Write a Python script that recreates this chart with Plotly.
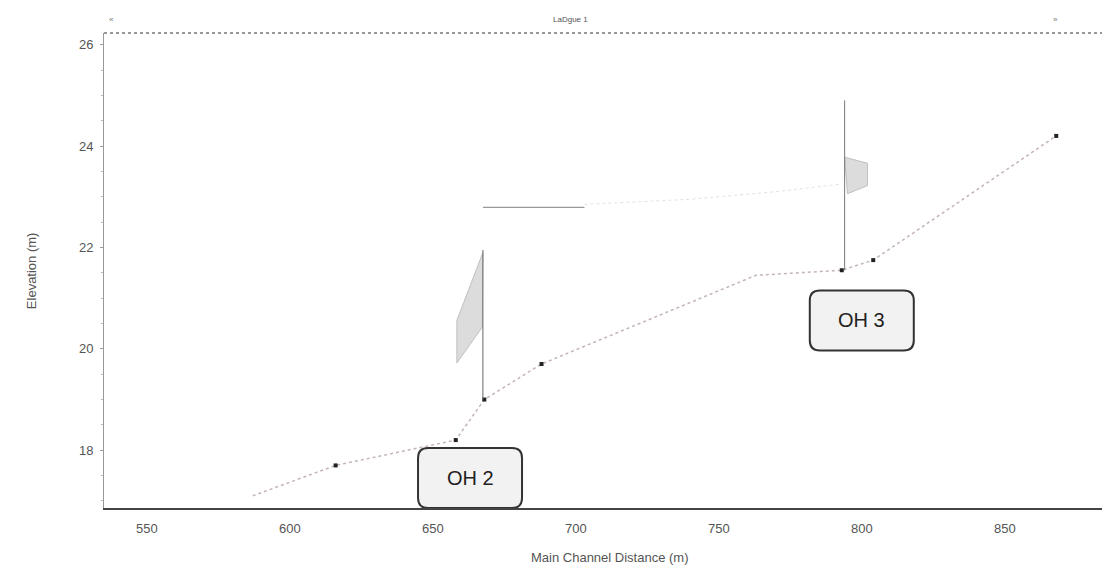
import plotly.graph_objects as go

# Channel bed profile
bed_dist = [587, 616, 658, 668, 688, 763, 793, 804, 868]
bed_elev = [17.1, 17.7, 18.2, 19.0, 19.7, 21.45, 21.55, 21.75, 24.2]
marker_dist = [616, 658, 668, 688, 793, 804, 868]
marker_elev = [17.7, 18.2, 19.0, 19.7, 21.55, 21.75, 24.2]

# Faint water surface line
ws_dist = [703, 740, 770, 793]
ws_elev = [22.85, 22.95, 23.1, 23.25]

# Structure OH 2
oh2_post_dist = [667.5, 667.5]
oh2_post_elev = [19.0, 21.95]
oh2_poly_dist = [667.5, 658.4, 658.4, 667.3, 667.5]
oh2_poly_elev = [21.9, 20.56, 19.72, 20.43, 21.9]
oh2_deck_dist = [667.5, 703]
oh2_deck_elev = [22.79, 22.79]

# Structure OH 3
oh3_post_dist = [794, 794]
oh3_post_elev = [21.55, 24.9]
oh3_poly_dist = [794, 802, 802, 795, 794]
oh3_poly_elev = [23.78, 23.66, 23.22, 23.06, 23.78]

# Labels
label_text = ["OH 2", "OH 3"]
label_dist = [663, 800]
label_elev = [17.45, 20.56]

x_ticks = [550, 600, 650, 700, 750, 800, 850]
y_ticks = [18, 20, 22, 24, 26]

fig = go.Figure()
fig.add_trace(go.Scatter(x=ws_dist, y=ws_elev, mode="lines",
                         line=dict(color="#e2e2e2", width=1, dash="dot"), hoverinfo="skip"))
fig.add_trace(go.Scatter(x=bed_dist, y=bed_elev, mode="lines",
                         line=dict(color="#c4b4b4", width=1.5, dash="dot"), hoverinfo="skip"))
fig.add_trace(go.Scatter(x=marker_dist, y=marker_elev, mode="markers",
                         marker=dict(color="#222222", size=4, symbol="square"), hoverinfo="skip"))
fig.add_trace(go.Scatter(x=oh2_poly_dist, y=oh2_poly_elev, mode="lines", fill="toself",
                         fillcolor="#dcdcdc", line=dict(color="#c0c0c0", width=1), hoverinfo="skip"))
fig.add_trace(go.Scatter(x=oh2_post_dist, y=oh2_post_elev, mode="lines",
                         line=dict(color="#666666", width=1), hoverinfo="skip"))
fig.add_trace(go.Scatter(x=oh2_deck_dist, y=oh2_deck_elev, mode="lines",
                         line=dict(color="#999999", width=1.2), hoverinfo="skip"))
fig.add_trace(go.Scatter(x=oh3_poly_dist, y=oh3_poly_elev, mode="lines", fill="toself",
                         fillcolor="#dcdcdc", line=dict(color="#c0c0c0", width=1), hoverinfo="skip"))
fig.add_trace(go.Scatter(x=oh3_post_dist, y=oh3_post_elev, mode="lines",
                         line=dict(color="#777777", width=1), hoverinfo="skip"))

W, H, R = 52, 30, 10
rounded = (f"M {-W+R},{-H} L {W-R},{-H} Q {W},{-H} {W},{-H+R} L {W},{H-R} Q {W},{H} {W-R},{H} "
           f"L {-W+R},{H} Q {-W},{H} {-W},{H-R} L {-W},{-H+R} Q {-W},{-H} {-W+R},{-H} Z")

shapes = [
    dict(type="line", xref="paper", yref="paper", x0=0, x1=1, y0=1, y1=1,
         line=dict(color="#777777", width=1.5, dash="dot")),
]
annotations = [
    dict(x=0.467, y=1.0, xref="paper", yref="paper", yshift=20, text="LaDgue 1",
         showarrow=False, font=dict(size=8, color="#555555")),
    dict(x=0.003, y=1.0, xref="paper", yref="paper", yshift=20, text="«",
         showarrow=False, font=dict(size=8, color="#777777")),
    dict(x=0.958, y=1.0, xref="paper", yref="paper", yshift=20, text="»",
         showarrow=False, font=dict(size=8, color="#777777")),
    dict(x=-0.082, y=0.5, xref="paper", yref="paper", text="Elevation (m)", textangle=-90,
         showarrow=False, font=dict(size=13, color="#555555")),
    dict(x=0.507, y=0.0, xref="paper", yref="paper", yshift=-59, text="Main Channel Distance (m)",
         showarrow=False, font=dict(size=13, color="#555555")),
]
for t, xd, yd in zip(label_text, label_dist, label_elev):
    shapes.append(dict(type="path", xref="x", yref="y", xsizemode="pixel", ysizemode="pixel",
                       xanchor=xd, yanchor=yd, path=rounded,
                       fillcolor="#f2f2f2", line=dict(color="#333333", width=2)))
    annotations.append(dict(x=xd, y=yd, text=t, showarrow=False,
                            font=dict(size=20, color="#222222")))

fig.update_layout(
    width=1094, height=563,
    margin=dict(l=96, r=0, t=25, b=63),
    paper_bgcolor="white", plot_bgcolor="white",
    showlegend=False,
    font=dict(family="Liberation Sans, Arial, sans-serif", color="#444444"),
    xaxis=dict(range=[535, 884], tickvals=x_ticks, ticktext=[str(v) for v in x_ticks],
               showgrid=False, zeroline=False, showline=True, linecolor="#444444",
               linewidth=1.5, ticks="", ticklabelstandoff=8,
               tickfont=dict(size=13, color="#555555")),
    yaxis=dict(range=[16.86, 26.23], tickvals=y_ticks, ticktext=[str(v) for v in y_ticks],
               showgrid=False, zeroline=False, showline=True, linecolor="#999999",
               linewidth=1, ticks="outside", ticklen=3, tickcolor="#999999",
               ticklabelstandoff=4,
               minor=dict(ticks="outside", ticklen=2, dtick=0.5, tickcolor="#bbbbbb"),
               tickfont=dict(size=13, color="#555555")),
    shapes=shapes,
    annotations=annotations,
)

fig.write_html("out.html")
